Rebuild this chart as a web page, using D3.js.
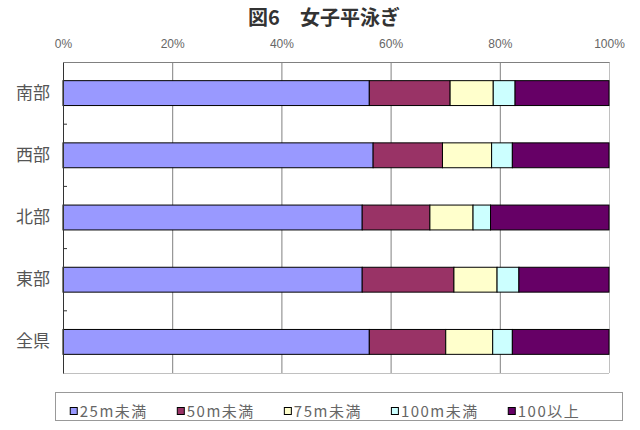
<!DOCTYPE html>
<html>
<head>
<meta charset="UTF-8">
<script src="https://d3js.org/d3.v7.min.js"></script>
<style>
  body { margin: 0; background: #fff; }
  text { font-family: "Noto Sans CJK JP", "DejaVu Sans", sans-serif; }
</style>
</head>
<body>
<svg width="640" height="430"></svg>
<script>
// 地域（上から）
var categories = ["南部", "西部", "北部", "東部", "全県"];
var seriesNames = ["25m未満", "50m未満", "75m未満", "100m未満", "100以上"];
// 割合（％）
var under25  = [56.1, 56.8, 54.8, 54.8, 56.1];
var under50  = [14.8, 12.7, 12.4, 16.8, 14.0];
var under75  = [7.9, 9.0, 7.9, 7.9, 8.6];
var under100 = [4.0, 3.8, 3.2, 4.0, 3.6];
var over100  = [17.2, 17.7, 21.7, 16.5, 17.7];
var tickValues = [0, 0.2, 0.4, 0.6, 0.8, 1];

var colors = ["#9999ff", "#993366", "#ffffcc", "#ccffff", "#660066"];
var series = [under25, under50, under75, under100, over100];

var svg = d3.select("svg");
var plotLeft = 63, plotRight = 609, plotTop = 62, plotBottom = 373;

// 表の形に組み立てる
var rows = categories.map(function(c, i) {
  var r = { name: c };
  seriesNames.forEach(function(s, j) { r[s] = series[j][i]; });
  return r;
});
var stacked = d3.stack().keys(seriesNames).offset(d3.stackOffsetExpand)(rows);

var x = d3.scaleLinear().domain([0, 1]).range([plotLeft, plotRight]);
var y = d3.scaleBand().domain(categories).range([plotTop, plotBottom])
  .paddingInner(0.6).paddingOuter(0.3);

// タイトル
svg.append("text")
  .attr("x", 324).attr("y", 25)
  .attr("text-anchor", "middle")
  .attr("font-size", "20px")
  .attr("font-weight", "bold")
  .attr("fill", "#333")
  .text("図6\u3000女子平泳ぎ");

// 目盛線
svg.append("g").selectAll("line")
  .data(tickValues.slice(1, -1))
  .enter().append("line")
  .attr("x1", function(d) { return x(d) + 0.5; })
  .attr("x2", function(d) { return x(d) + 0.5; })
  .attr("y1", plotTop).attr("y2", plotBottom)
  .attr("stroke", "#808080").attr("stroke-width", 1);

// 枠
svg.append("line").attr("x1", plotRight + 0.5).attr("x2", plotRight + 0.5)
  .attr("y1", plotTop).attr("y2", plotBottom)
  .attr("stroke", "#c0c0c0");
svg.append("line").attr("x1", plotLeft).attr("x2", plotRight)
  .attr("y1", plotBottom + 0.5).attr("y2", plotBottom + 0.5)
  .attr("stroke", "#c0c0c0");

// 上の軸
var xAxis = svg.append("g")
  .attr("transform", "translate(0," + plotTop + ")")
  .call(d3.axisTop(x).tickValues(tickValues).tickSize(0).tickPadding(14)
    .tickFormat(d3.format(".0%")));
xAxis.select(".domain").attr("stroke", "#808080");
xAxis.selectAll("text")
  .attr("font-size", "12px")
  .attr("fill", "#666")
  .style("font-family", "'Liberation Sans', sans-serif");

// 棒
svg.append("g").selectAll("g")
  .data(stacked)
  .enter().append("g")
  .attr("fill", function(d, i) { return colors[i]; })
  .selectAll("rect")
  .data(function(d) { return d; })
  .enter().append("rect")
  .attr("x", function(d) { return x(d[0]); })
  .attr("y", function(d) { return y(d.data.name); })
  .attr("width", function(d) { return x(d[1]) - x(d[0]); })
  .attr("height", y.bandwidth())
  .attr("stroke", "#000").attr("stroke-width", 1);

// 左の軸
var yAxis = svg.append("g")
  .attr("transform", "translate(" + plotLeft + ",0)")
  .call(d3.axisLeft(y).tickSize(0).tickPadding(13));
yAxis.select(".domain").attr("stroke", "#333");
yAxis.selectAll("text")
  .attr("font-size", "17px")
  .attr("fill", "#555");

// 区切りの目盛
svg.append("g").selectAll("line")
  .data(categories.slice(1))
  .enter().append("line")
  .attr("x1", plotLeft).attr("x2", plotLeft + 4)
  .attr("y1", function(d) { return y(d) - (y.step() - y.bandwidth()) / 2; })
  .attr("y2", function(d) { return y(d) - (y.step() - y.bandwidth()) / 2; })
  .attr("stroke", "#333");

// 凡例
svg.append("rect")
  .attr("x", 55.5).attr("y", 392.5)
  .attr("width", 567).attr("height", 28)
  .attr("fill", "#fff").attr("stroke", "#999");

var legend = svg.append("g");
var items = legend.selectAll("g")
  .data(seriesNames)
  .enter().append("g");
items.append("rect")
  .attr("x", 0.5).attr("y", 407.5)
  .attr("width", 7).attr("height", 7)
  .attr("fill", function(d, i) { return colors[i]; })
  .attr("stroke", "#000");
items.append("text")
  .attr("x", 10).attr("y", 417)
  .attr("font-size", "15px")
  .attr("letter-spacing", "1.5px")
  .attr("fill", "#666")
  .text(function(d) { return d; });

var pos = 0, offsets = [];
items.each(function() {
  offsets.push(pos);
  pos += 10 + d3.select(this).select("text").node().getComputedTextLength() + 29;
});
var start = 325 - (pos - 29) / 2;
items.attr("transform", function(d, i) { return "translate(" + (start + offsets[i]) + ",0)"; });
</script>
</body>
</html>
